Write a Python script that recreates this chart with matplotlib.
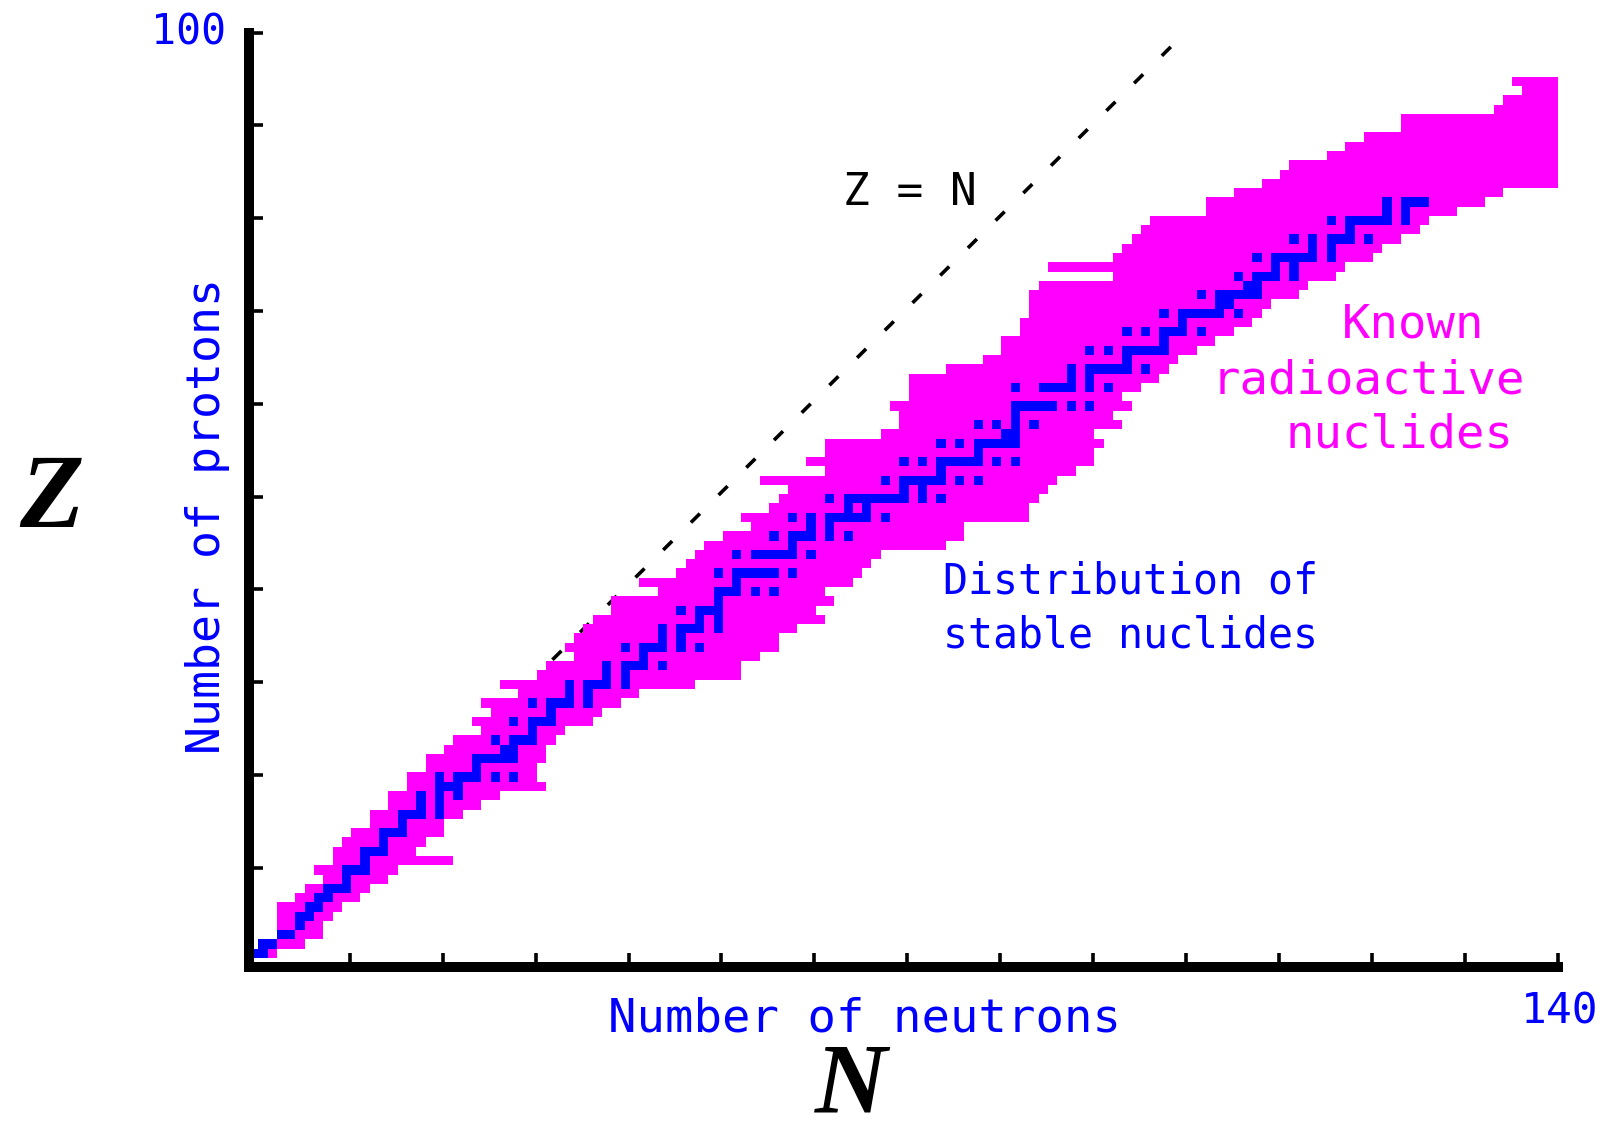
import matplotlib.pyplot as plt

# proton number of each row of the chart
z_rows = list(range(1, 96))

# lightest and heaviest known radioactive nuclide (neutron number) per Z
radio_n_min = [0, 1, 3, 3, 3, 3, 5, 6, 8, 7,
               9, 9, 10, 11, 13, 13, 15, 15, 17, 17,
               19, 19, 21, 22, 25, 24, 26, 25, 29, 27,
               31, 32, 35, 34, 35, 36, 37, 39, 39, 44,
               42, 46, 47, 48, 49, 51, 54, 53, 56, 57,
               58, 55, 62, 60, 62, 62, 68, 70, 70, 69,
               71, 71, 71, 75, 79, 81, 81, 83, 83, 84,
               84, 84, 85, 93, 86, 93, 94, 95, 96, 97,
               103, 103, 106, 109, 111, 112, 116, 118, 120, 124,
               124, 134, 135, 137, 136]
radio_n_max = [2, 5, 7, 7, 8, 9, 11, 12, 14, 15,
               21, 17, 18, 20, 20, 22, 24, 26, 31, 30,
               30, 31, 31, 32, 33, 36, 37, 39, 41, 47,
               52, 52, 54, 56, 56, 58, 61, 60, 62, 61,
               64, 65, 66, 67, 74, 76, 76, 83, 83, 84,
               85, 86, 88, 90, 90, 91, 90, 93, 92, 94,
               93, 95, 97, 98, 99, 101, 103, 105, 107, 108,
               109, 112, 113, 116, 117, 120, 121, 123, 125, 126,
               129, 132, 134, 140, 140, 140, 140, 140, 140, 140,
               140, 140, 140, 140, 140]

# neutron numbers of the stable nuclides, Z = 1 .. 82
stable_n = [
    [0, 1], [1, 2], [3, 4], [5], [5, 6], [6, 7], [7, 8], [8, 9, 10], [10], [10, 11, 12],
    [12], [12, 13, 14], [14], [14, 15, 16], [16], [16, 17, 18, 20], [18, 20], [18, 20, 22],
    [20, 21, 22], [20, 22, 23, 24, 26, 28],
    [24], [24, 25, 26, 27, 28], [27, 28], [26, 28, 29, 30], [30], [28, 30, 31, 32], [32],
    [30, 32, 33, 34, 36], [34, 36], [34, 36, 37, 38, 40],
    [38, 40], [38, 40, 41, 42, 44], [42], [40, 42, 43, 44, 46, 48], [44, 46],
    [44, 46, 47, 48, 50], [48, 50], [46, 48, 49, 50], [50], [50, 51, 52, 54, 56],
    [52], [50, 52, 53, 54, 55, 56, 58], [], [52, 54, 55, 56, 57, 58, 60], [58],
    [56, 58, 59, 60, 62, 64], [60, 62], [58, 60, 62, 63, 64, 65, 66, 68], [64, 66],
    [62, 64, 65, 66, 67, 68, 69, 70, 72, 74],
    [70, 72], [68, 70, 71, 72, 73, 74, 76, 78], [74], [70, 72, 74, 75, 76, 77, 78, 80, 82],
    [78], [74, 76, 78, 79, 80, 81, 82], [81, 82], [78, 80, 82, 84], [82],
    [82, 83, 84, 85, 86, 88, 90],
    [], [82, 85, 86, 87, 88, 90, 92], [88, 90], [88, 90, 91, 92, 93, 94, 96], [94],
    [90, 92, 94, 95, 96, 97, 98], [98], [94, 96, 98, 99, 100, 102], [100],
    [98, 100, 101, 102, 103, 104, 106],
    [104, 105], [102, 104, 105, 106, 107, 108], [107, 108], [106, 108, 109, 110, 112],
    [110, 112], [108, 110, 111, 112, 113, 114, 116], [114, 116],
    [112, 114, 116, 117, 118, 120], [118], [116, 118, 119, 120, 121, 122, 124],
    [122, 124], [122, 124, 125, 126],
]

# the Z = N guide line
zn_line_n = [31.8, 99.2]
zn_line_z = [32.4, 99.3]

MAGENTA = '#ff00ff'
BLUE = '#0000ff'
MONO = 'DejaVu Sans Mono'
# cells sit a little left of / below the integer grid in the original drawing
DX, DY = -0.86, -0.75

W, H = 1604, 1135
fig = plt.figure(figsize=(W / 100, H / 100), dpi=100)
ax = fig.add_axes([249 / W, 1 - 967 / H, (1557.6 - 249) / W, (967 - 32.7) / H])
ax.set_xlim(-0.86, 140)
ax.set_ylim(-0.72, 100)
ax.patch.set_visible(False)

ax.plot(zn_line_n, zn_line_z, color='black', lw=2.6, linestyle=(0, (3.5, 7.3)),
        dash_capstyle='butt', zorder=1)

for z, lo, hi in zip(z_rows, radio_n_min, radio_n_max):
    ax.barh(z + DY, hi - lo + 1, left=lo + DX, height=1, align='edge',
            color=MAGENTA, lw=0, antialiased=False, zorder=2)

for z, ns in enumerate(stable_n, start=1):
    # merge neighbouring stable isotopes into one run
    runs = []
    for n in ns:
        if runs and n == runs[-1][1] + 1:
            runs[-1][1] = n
        else:
            runs.append([n, n])
    for a, b in runs:
        ax.barh(z + DY, b - a + 1, left=a + DX, height=1, align='edge',
                color=BLUE, lw=0, antialiased=False, zorder=3)

for side in ['top', 'right']:
    ax.spines[side].set_visible(False)
for side in ['left', 'bottom']:
    ax.spines[side].set_linewidth(7.2)
    ax.spines[side].set_capstyle('projecting')
    ax.spines[side].set_zorder(5)
ax.set_xticks(range(10, 141, 10))
ax.set_yticks(range(10, 101, 10))
ax.tick_params(direction='in', length=10, width=2.6, color='black',
               labelbottom=False, labelleft=False)

fig.text(226 / W, 1 - 32.7 / H, '100', color=BLUE, fontsize=30, family=MONO,
         ha='right', va='center')
fig.text(1598 / W, 1 - 1023 / H, '140', color=BLUE, fontsize=31, family=MONO,
         ha='right', va='baseline')
fig.text(865 / W, 1 - 1032 / H, 'Number of neutrons', color=BLUE, fontsize=34,
         family=MONO, ha='center', va='baseline')
fig.text(207 / W, 1 - 516 / H, 'Number of protons', color=BLUE, fontsize=33.5,
         family=MONO, rotation=90, ha='center', va='center')
fig.text(910 / W, 1 - 205 / H, 'Z = N', color='black', fontsize=32, family=MONO,
         ha='center', va='baseline')
fig.text(1413 / W, 1 - 338 / H, 'Known', color=MAGENTA, fontsize=34, family=MONO,
         ha='center', va='baseline')
fig.text(1368 / W, 1 - 394 / H, 'radioactive', color=MAGENTA, fontsize=34, family=MONO,
         ha='center', va='baseline')
fig.text(1400 / W, 1 - 448 / H, 'nuclides', color=MAGENTA, fontsize=34, family=MONO,
         ha='center', va='baseline')
fig.text(943 / W, 1 - 593 / H, 'Distribution of', color=BLUE, fontsize=30, family=MONO,
         ha='left', va='baseline')
fig.text(943 / W, 1 - 648 / H, 'stable nuclides', color=BLUE, fontsize=30, family=MONO,
         ha='left', va='baseline')
fig.text(52 / W, 1 - 527 / H, 'Z', color='black', fontsize=76, family='Liberation Serif',
         style='italic', weight='bold', ha='center', va='baseline')
fig.text(851 / W, 1 - 1112 / H, 'N', color='black', fontsize=72, family='Liberation Serif',
         style='italic', weight='bold', ha='center', va='baseline')

fig.savefig('out.png', dpi=100)
